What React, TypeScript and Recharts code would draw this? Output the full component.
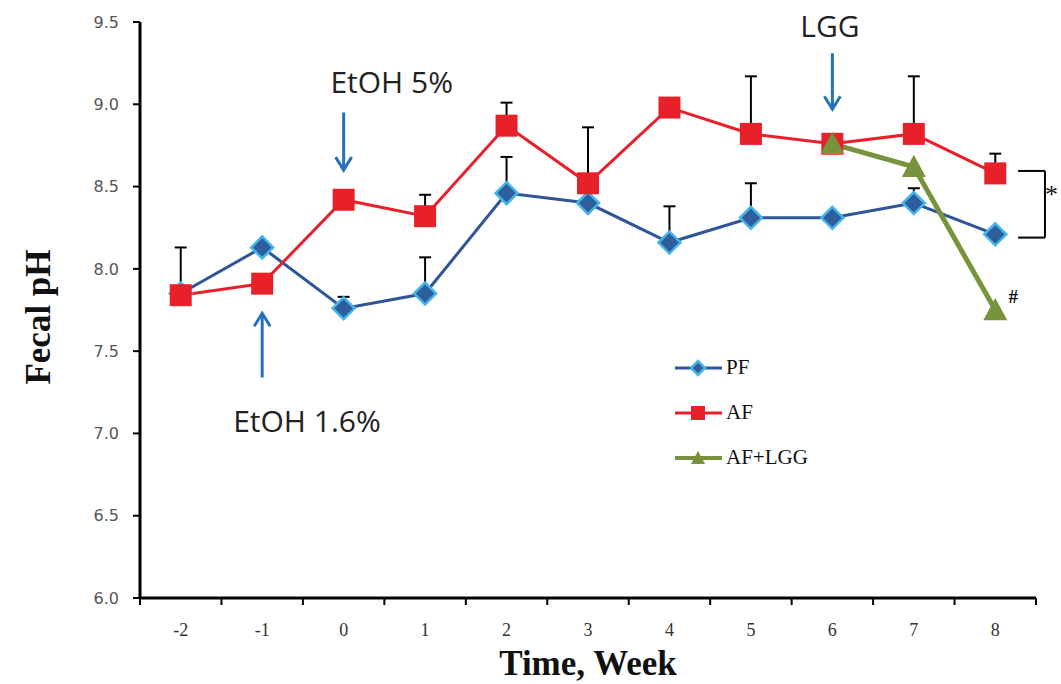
import React from "react"
import {
  LineChart,
  Line,
  XAxis,
  YAxis,
  ErrorBar,
  Legend,
  Label,
  ReferenceDot,
  ReferenceLine,
} from "recharts"

// weeks on the x axis
const weeks = [-2, -1, 0, 1, 2, 3, 4, 5, 6, 7, 8]

// mean fecal pH per group
const pfValues = [7.85, 8.13, 7.76, 7.85, 8.46, 8.4, 8.16, 8.31, 8.31, 8.4, 8.21]
const afValues = [7.84, 7.91, 8.42, 8.32, 8.87, 8.52, 8.98, 8.82, 8.76, 8.82, 8.58]
const lggValues = [null, null, null, null, null, null, null, null, 8.76, 8.62, 7.75]

// upper error (SEM), only drawn upward
const pfErrors = [null, null, 0.07, 0.22, 0.22, null, 0.22, 0.21, null, 0.09, null]
const afErrors = [0.29, null, null, 0.13, 0.14, 0.34, null, 0.35, null, 0.35, 0.12]
const lggErrors = [null, null, null, null, null, null, null, 0.35, null, null, null]

const yTicks = [6.0, 6.5, 7.0, 7.5, 8.0, 8.5, 9.0, 9.5]
// integer weeks get a label, half weeks get a tick mark
const xTicks = [-2.5, -2, -1.5, -1, -0.5, 0, 0.5, 1, 1.5, 2, 2.5, 3, 3.5, 4, 4.5, 5, 5.5, 6, 6.5, 7, 7.5, 8, 8.5]

// treatment arrows: week, arrow tail, arrow tip, label anchor (week, pH)
const arrows = [
  { label: "EtOH 5%", week: 0, from: 8.95, to: 8.6, labelX: 0.59, labelY: 9.07 },
  { label: "EtOH 1.6%", week: -1, from: 7.34, to: 7.73, labelX: -0.45, labelY: 7.01 },
  { label: "LGG", week: 6, from: 9.31, to: 8.97, labelX: 5.97, labelY: 9.41 },
]

const PF_COLOR = "#2F5597"
const AF_COLOR = "#E8202A"
const LGG_COLOR = "#77933C"
const ARROW_COLOR = "#2671B9"

const toErr = (e: number | null) => (e == null ? null : [0, e])

const data = weeks.map((w, i) => ({
  week: w,
  pf: pfValues[i],
  af: afValues[i],
  lgg: lggValues[i],
  pfErr: toErr(pfErrors[i]),
  afErr: toErr(afErrors[i]),
  lggErr: toErr(lggErrors[i]),
}))

function Diamond({ cx, cy, s = 11 }: any) {
  return (
    <polygon
      points={`${cx},${cy - s} ${cx + s},${cy} ${cx},${cy + s} ${cx - s},${cy}`}
      fill="#2E5E9E"
      stroke="#45B4E8"
      strokeWidth={2.5}
    />
  )
}

function Square({ cx, cy, s = 11 }: any) {
  return <rect x={cx - s} y={cy - s} width={s * 2} height={s * 2} fill={AF_COLOR} />
}

function Triangle({ cx, cy, s = 12 }: any) {
  return (
    <polygon
      points={`${cx},${cy - s} ${cx + s},${cy + s * 0.85} ${cx - s},${cy + s * 0.85}`}
      fill={LGG_COLOR}
    />
  )
}

const makeDot = (Shape: any, prefix: string) => (props: any) => {
  const { cx, cy, value, index } = props
  if (value == null || cx == null || cy == null) return <g key={`${prefix}-${index}`} />
  return (
    <g key={`${prefix}-${index}`}>
      <Shape cx={cx} cy={cy} />
    </g>
  )
}

function WeekTick(props: any) {
  const { x, y, payload } = props
  const v = payload.value
  if (Number.isInteger(v)) {
    return (
      <text x={x} y={y + 38} textAnchor="middle" fontFamily="'Liberation Serif', serif" fontSize={18} fill="#333">
        {v}
      </text>
    )
  }
  return <line x1={x} y1={y} x2={x} y2={y + 7} stroke="#000" strokeWidth={2} />
}

function LegendBox() {
  const items = [
    { name: "PF", color: PF_COLOR, Shape: Diamond, size: 7, w: 3 },
    { name: "AF", color: AF_COLOR, Shape: Square, size: 7, w: 3 },
    { name: "AF+LGG", color: LGG_COLOR, Shape: Triangle, size: 7, w: 4 },
  ]
  return (
    <div>
      {items.map((it) => (
        <div key={it.name} style={{ height: 45, display: "flex", alignItems: "center" }}>
          <svg width={52} height={20}>
            <line x1={3} y1={10} x2={50} y2={10} stroke={it.color} strokeWidth={it.w} />
            <it.Shape cx={26} cy={10} s={it.size} />
          </svg>
          <span style={{ fontFamily: "'Liberation Serif', serif", fontSize: 21, color: "#111", marginLeft: 2 }}>
            {it.name}
          </span>
        </div>
      ))}
    </div>
  )
}

export default function App() {
  return (
    <div style={{ position: "absolute", left: 0, top: 0, width: 1061, height: 684, background: "#fff" }}>
      <LineChart width={1061} height={684} data={data} margin={{ top: 22, right: 25, bottom: 46, left: 80 }}>
        <XAxis
          dataKey="week"
          type="number"
          domain={[-2.5, 8.5]}
          ticks={xTicks}
          interval={0}
          tick={<WeekTick />}
          tickLine={false}
          tickSize={0}
          tickMargin={0}
          axisLine={{ stroke: "#000", strokeWidth: 3 }}
          height={40}
          allowDataOverflow
        >
          <Label
            content={({ viewBox }: any) => (
              <text
                x={viewBox.x + viewBox.width / 2}
                y={viewBox.y + 77}
                textAnchor="middle"
                fontFamily="'Liberation Serif', serif"
                fontWeight="bold"
                fontSize={35}
                fill="#111"
              >
                Time, Week
              </text>
            )}
          />
        </XAxis>
        <YAxis
          type="number"
          domain={[6, 9.5]}
          ticks={yTicks}
          interval={0}
          width={60}
          tickFormatter={(v: number) => v.toFixed(1)}
          tick={{ fontFamily: "'DejaVu Sans', sans-serif", fontSize: 16, fill: "#555" }}
          tickSize={7}
          tickMargin={14}
          tickLine={{ stroke: "#000", strokeWidth: 2 }}
          axisLine={{ stroke: "#000", strokeWidth: 3 }}
          allowDataOverflow
        >
          <Label
            content={({ viewBox }: any) => {
              const cx = viewBox.x - 42
              const cy = viewBox.y + viewBox.height / 2 + 7
              return (
                <text
                  x={cx}
                  y={cy}
                  transform={`rotate(-90, ${cx}, ${cy})`}
                  textAnchor="middle"
                  dominantBaseline="central"
                  fontFamily="'Liberation Serif', serif"
                  fontWeight="bold"
                  fontSize={35}
                  fill="#111"
                >
                  Fecal pH
                </text>
              )
            }}
          />
        </YAxis>

        <Legend
          layout="vertical"
          align="center"
          verticalAlign="middle"
          content={() => <LegendBox />}
          wrapperStyle={{ left: 672, top: 345, width: 180 }}
        />

        {arrows.map((a) => (
          <ReferenceLine
            key={`shaft-${a.label}`}
            segment={[
              { x: a.week, y: a.from },
              { x: a.week, y: a.to },
            ]}
            stroke={ARROW_COLOR}
            strokeWidth={3}
            ifOverflow="visible"
          />
        ))}
        {arrows.map((a) => (
          <ReferenceDot
            key={`head-${a.label}`}
            x={a.week}
            y={a.to}
            ifOverflow="visible"
            shape={(p: any) => {
              const d = a.to < a.from ? -1 : 1
              return (
                <polyline
                  points={`${p.cx - 8},${p.cy + d * 13} ${p.cx},${p.cy} ${p.cx + 8},${p.cy + d * 13}`}
                  fill="none"
                  stroke={ARROW_COLOR}
                  strokeWidth={3}
                />
              )
            }}
          />
        ))}
        {arrows.map((a) => (
          <ReferenceDot
            key={`text-${a.label}`}
            x={a.labelX}
            y={a.labelY}
            ifOverflow="visible"
            shape={(p: any) => (
              <text x={p.cx} y={p.cy} textAnchor="middle" fontFamily="'Open Sans', sans-serif" fontSize={30} fill="#222">
                {a.label}
              </text>
            )}
          />
        ))}

        {/* significance bracket AF vs PF at week 8 */}
        <ReferenceLine segment={[{ x: 8.28, y: 8.595 }, { x: 8.61, y: 8.595 }]} stroke="#000" strokeWidth={2} ifOverflow="visible" />
        <ReferenceLine segment={[{ x: 8.28, y: 8.19 }, { x: 8.61, y: 8.19 }]} stroke="#000" strokeWidth={2} ifOverflow="visible" />
        <ReferenceLine segment={[{ x: 8.61, y: 8.595 }, { x: 8.61, y: 8.19 }]} stroke="#000" strokeWidth={2} ifOverflow="visible" />
        <ReferenceDot
          x={8.69}
          y={8.4}
          ifOverflow="visible"
          shape={(p: any) => (
            <text x={p.cx} y={p.cy} textAnchor="middle" fontFamily="'Liberation Serif', serif" fontSize={26} fill="#111">
              *
            </text>
          )}
        />
        <ReferenceDot
          x={8.22}
          y={7.79}
          ifOverflow="visible"
          shape={(p: any) => (
            <text x={p.cx} y={p.cy} textAnchor="middle" fontFamily="'Liberation Serif', serif" fontWeight="bold" fontSize={19} fill="#111">
              #
            </text>
          )}
        />

        <Line
          dataKey="pf"
          type="linear"
          stroke={PF_COLOR}
          strokeWidth={3}
          dot={makeDot(Diamond, "pf")}
          activeDot={false}
          isAnimationActive={false}
        >
          <ErrorBar dataKey="pfErr" direction="y" width={6} stroke="#000" strokeWidth={2} />
        </Line>
        <Line
          dataKey="af"
          type="linear"
          stroke={AF_COLOR}
          strokeWidth={3}
          dot={makeDot(Square, "af")}
          activeDot={false}
          isAnimationActive={false}
        >
          <ErrorBar dataKey="afErr" direction="y" width={6} stroke="#000" strokeWidth={2} />
        </Line>
        <Line
          dataKey="lgg"
          type="linear"
          stroke={LGG_COLOR}
          strokeWidth={5}
          dot={makeDot(Triangle, "lgg")}
          activeDot={false}
          isAnimationActive={false}
        >
          <ErrorBar dataKey="lggErr" direction="y" width={6} stroke="#000" strokeWidth={2} />
        </Line>
      </LineChart>
    </div>
  )
}
